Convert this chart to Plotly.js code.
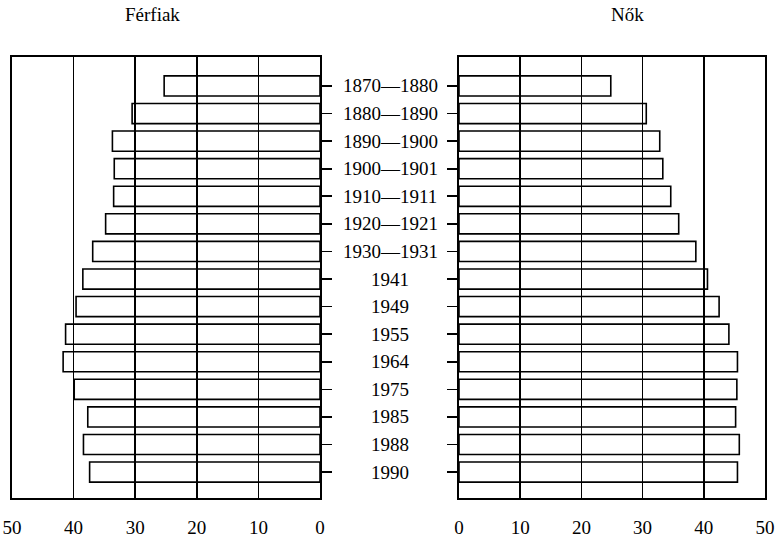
<!DOCTYPE html>
<html>
<head>
<meta charset="utf-8">
<script src="https://cdn.plot.ly/plotly-3.0.1.min.js"></script>
<style>html,body{margin:0;padding:0;background:#fff;}#chart{width:782px;height:538px;}</style>
</head>
<body>
<div id="chart"></div>
<script>
var periods = ["1870—1880","1880—1890","1890—1900","1900—1901","1910—1911","1920—1921","1930—1931","1941","1949","1955","1964","1975","1985","1988","1990"];
var men = [25.3, 30.5, 33.7, 33.4, 33.5, 34.8, 36.9, 38.5, 39.6, 41.3, 41.7, 39.9, 37.7, 38.4, 37.4];
var women = [24.8, 30.6, 32.8, 33.3, 34.6, 35.9, 38.7, 40.6, 42.5, 44.1, 45.5, 45.4, 45.2, 45.8, 45.5];
var leftTitle = "Férfiak";
var rightTitle = "Nők";
var xTicks = [0, 10, 20, 30, 40, 50];

var serif = "'Liberation Serif', 'DejaVu Serif', serif";
var lw = 1.6;
var barStyle = {color: "rgba(0,0,0,0)", line: {color: "#000", width: lw}};

var traces = [
  {type: "bar", orientation: "h", x: men, y: periods, xaxis: "x", yaxis: "y",
   width: 0.73, marker: barStyle, hoverinfo: "none", showlegend: false},
  {type: "bar", orientation: "h", x: women, y: periods, xaxis: "x2", yaxis: "y2",
   width: 0.73, marker: barStyle, hoverinfo: "none", showlegend: false}
];

var xCommon = {
  tickmode: "array", tickvals: xTicks, ticktext: xTicks.map(String),
  showgrid: true, gridcolor: "#000", gridwidth: lw,
  zeroline: false, showline: true, mirror: true, linecolor: "#000", linewidth: lw,
  ticks: "", ticklabelstandoff: 12,
  tickfont: {family: serif, size: 19, color: "#000"}, fixedrange: true
};
var yCommon = {
  type: "category", range: [14.94, -1.05], showgrid: false, zeroline: false,
  showline: true, mirror: true, linecolor: "#000", linewidth: lw,
  ticks: "outside", ticklen: 10, tickwidth: lw, tickcolor: "#000",
  showticklabels: false, fixedrange: true
};

var annotations = periods.map(function (p, i) {
  return {xref: "paper", yref: "y", x: 390 / 782, y: i, text: p, showarrow: false,
          xanchor: "center", yanchor: "middle",
          font: {family: serif, size: 19, color: "#000"}};
});
annotations.push({xref: "paper", yref: "paper", x: 152 / 782, y: 1, yshift: 43, text: leftTitle,
  showarrow: false, xanchor: "center", yanchor: "middle", font: {family: serif, size: 19, color: "#000"}});
annotations.push({xref: "paper", yref: "paper", x: 627 / 782, y: 1, yshift: 43, text: rightTitle,
  showarrow: false, xanchor: "center", yanchor: "middle", font: {family: serif, size: 19, color: "#000"}});

var layout = {
  width: 782, height: 538,
  margin: {l: 0, r: 0, t: 57, b: 40, pad: 0},
  paper_bgcolor: "#fff", plot_bgcolor: "rgba(0,0,0,0)",
  font: {family: serif, color: "#000"},
  barmode: "overlay",
  xaxis: Object.assign({}, xCommon, {domain: [12 / 782, 320 / 782], range: [50, 0], anchor: "y"}),
  xaxis2: Object.assign({}, xCommon, {domain: [459 / 782, 765 / 782], range: [0, 50], anchor: "y2"}),
  yaxis: Object.assign({}, yCommon, {anchor: "x", side: "right"}),
  yaxis2: Object.assign({}, yCommon, {anchor: "x2", side: "left"}),
  annotations: annotations
};

Plotly.newPlot("chart", traces, layout, {displayModeBar: false, staticPlot: true});
</script>
</body>
</html>
